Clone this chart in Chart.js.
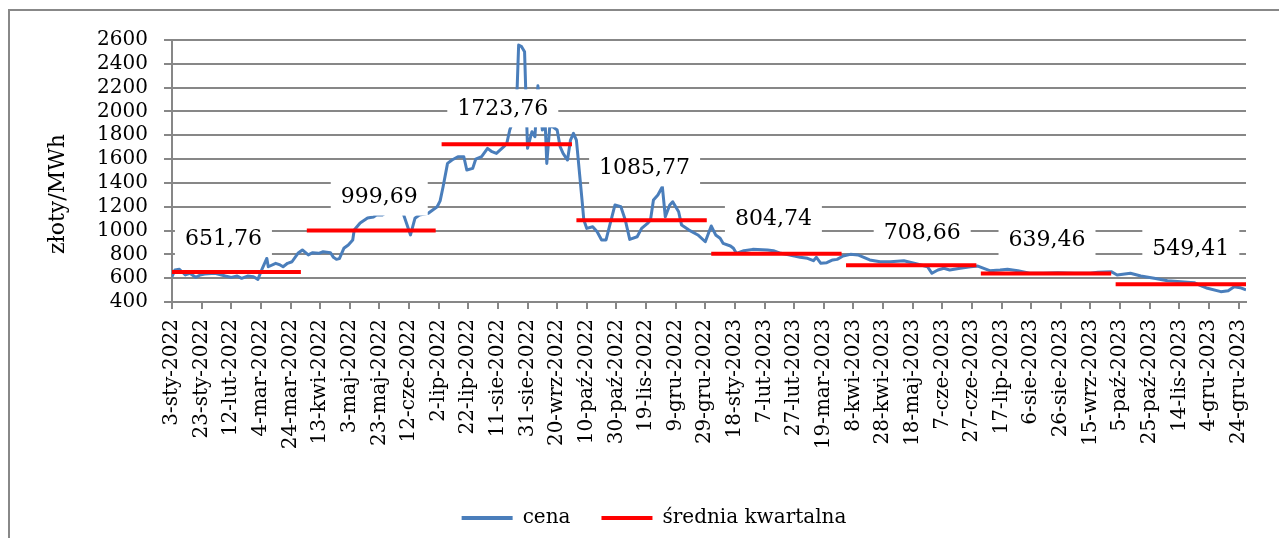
<!DOCTYPE html>
<html>
<head>
<meta charset="utf-8">
<script src="https://cdn.jsdelivr.net/npm/chart.js@4"></script>
<style>
  html, body { margin: 0; padding: 0; background: #fff; overflow: hidden; }
  #frame { position: absolute; left: 8px; top: 9px; width: 1300px; height: 560px; border: 2px solid #888888; }
  #wrap { position: absolute; left: 0; top: 0; width: 1279px; height: 538px; }
</style>
</head>
<body>
<div id="frame"></div>
<div id="wrap"><canvas id="chart" width="1279" height="538"></canvas></div>
<script>
// month abbreviations used in the tick labels
const monthNames = ['sty', 'lut', 'mar', 'kwi', 'maj', 'cze', 'lip', 'sie', 'wrz', 'paź', 'lis', 'gru'];

// price series: day offset from 3-sty-2022, value in zł/MWh
const priceDay = [0, 2, 5, 9, 12, 16, 19, 22, 29, 36, 40, 44, 47, 51, 55, 58, 61, 64, 65, 70,
  73, 75, 78, 81, 85, 88, 92, 95, 99, 102, 107, 109, 111, 113, 116, 119, 122, 123, 127, 132,
  136, 138, 142, 147, 153, 156, 161, 164, 167, 173, 179, 181, 183, 186, 189, 193, 197, 199, 203, 205,
  209, 213, 216, 219, 224, 226, 228, 231, 233, 234, 236, 238, 240, 243, 245, 247, 250, 252, 253, 255,
  257, 260, 262, 264, 267, 269, 271, 273, 277, 278, 280, 284, 287, 290, 293, 297, 299, 303, 306, 309,
  314, 317, 321, 323, 325, 328, 331, 333, 336, 338, 342, 344, 349, 355, 360, 364, 367, 370, 372, 377,
  379, 381, 386, 392, 402, 406, 411, 417, 424, 429, 433, 435, 438, 442, 446, 449, 453, 458, 463, 467,
  471, 478, 485, 494, 503, 510, 513, 517, 521, 525, 532, 539, 544, 548, 552, 559, 564, 571, 579, 588,
  598, 609, 620, 625, 634, 638, 647, 654, 663, 672, 681, 690, 694, 699, 708, 713, 717, 721, 725];
const priceValue = [612, 669, 675, 627, 641, 607, 627, 635, 641, 618, 607, 618, 599, 618, 612, 590, 683, 767, 696, 725,
  711, 696, 725, 738, 809, 837, 795, 814, 809, 822, 814, 775, 758, 764, 851, 879, 921, 1004, 1063, 1105,
  1114, 1130, 1130, 1170, 1190, 1145, 963, 1103, 1130, 1145, 1200, 1249, 1368, 1564, 1592, 1620, 1620, 1508, 1522, 1599,
  1620, 1690, 1662, 1648, 1704, 1732, 1844, 1950, 2200, 2558, 2544, 2502, 1690, 1830, 1788, 2215, 1844, 1872, 1564, 1872,
  1872, 1844, 1704, 1648, 1592, 1760, 1816, 1760, 1229, 1088, 1018, 1032, 990, 921, 921, 1116, 1214, 1200, 1088, 926,
  948, 1018, 1060, 1088, 1256, 1298, 1368, 1116, 1214, 1242, 1158, 1046, 1004, 963, 906, 1038, 963, 935, 893, 870,
  851, 809, 831, 842, 837, 831, 809, 795, 775, 767, 747, 775, 725, 730, 753, 758, 786, 800, 795, 775,
  753, 738, 738, 747, 719, 696, 641, 669, 683, 669, 683, 696, 702, 683, 663, 669, 675, 663, 641, 641,
  646, 641, 641, 650, 655, 627, 641, 618, 599, 579, 570, 562, 540, 515, 487, 495, 528, 520, 501];

// quarterly averages
const quarterStart = ['2022-01-03', '2022-04-04', '2022-07-04', '2022-10-03', '2023-01-02', '2023-04-03', '2023-07-03', '2023-10-02'];
const quarterEnd = ['2022-03-31', '2022-06-30', '2022-09-30', '2022-12-30', '2023-03-31', '2023-06-30', '2023-09-29', '2023-12-29'];
const quarterAvg = [651.76, 999.69, 1723.76, 1085.77, 804.74, 708.66, 639.46, 549.41];

const dayOf = iso => {
  const [y, m, d] = iso.split('-').map(Number);
  return (Date.UTC(y, m - 1, d) - Date.UTC(2022, 0, 3)) / 86400000;
};

const avgData = [];
quarterAvg.forEach((v, i) => {
  avgData.push({ x: dayOf(quarterStart[i]), y: v });
  avgData.push({ x: dayOf(quarterEnd[i]), y: v });
  avgData.push({ x: dayOf(quarterEnd[i]) + 0.5, y: null });
});

const FONT = '"DejaVu Serif", serif';
const GRID = '#878787';

// value boxes above each quarterly line
const avgLabels = {
  id: 'avgLabels',
  afterDatasetsDraw(chart, args, opts) {
    const { ctx, scales: { x, y } } = chart;
    ctx.save();
    ctx.font = '22px ' + FONT;
    ctx.textAlign = 'center';
    ctx.textBaseline = 'middle';
    quarterAvg.forEach((v, i) => {
      const cx = (x.getPixelForValue(dayOf(quarterStart[i])) + x.getPixelForValue(dayOf(quarterEnd[i]))) / 2 + opts.dx[i];
      const cy = y.getPixelForValue(v) - opts.lift[i];
      const text = v.toFixed(2).replace('.', ',');
      const w = ctx.measureText(text).width + 20;
      const h = 38;
      ctx.fillStyle = '#fff';
      ctx.fillRect(cx - w / 2, cy - h / 2, w, h);
      ctx.fillStyle = '#000';
      ctx.fillText(text, cx, cy + 1);
    });
    ctx.restore();
  }
};

// y-axis title, drawn a bit below the middle of the plot like the original
const yTitle = {
  id: 'yTitle',
  afterDraw(chart) {
    const { ctx, chartArea } = chart;
    ctx.save();
    ctx.translate(58, (chartArea.top + chartArea.bottom) / 2 + 23);
    ctx.rotate(-Math.PI / 2);
    ctx.font = '22px ' + FONT;
    ctx.fillStyle = '#000';
    ctx.textAlign = 'center';
    ctx.textBaseline = 'middle';
    ctx.fillText('złoty/MWh', 0, 0);
    ctx.restore();
  }
};

new Chart(document.getElementById('chart'), {
  type: 'line',
  data: {
    datasets: [
      {
        label: 'cena',
        data: priceDay.map((d, i) => ({ x: d, y: priceValue[i] })),
        borderColor: '#4a7ebb',
        backgroundColor: '#4a7ebb',
        borderWidth: 3,
        borderJoinStyle: 'round',
        pointRadius: 0,
        tension: 0,
        order: 1
      },
      {
        label: 'średnia kwartalna',
        data: avgData,
        borderColor: '#ff0000',
        backgroundColor: '#ff0000',
        borderWidth: 4,
        pointRadius: 0,
        spanGaps: false,
        order: 0
      }
    ]
  },
  options: {
    responsive: false,
    animation: false,
    layout: { padding: { left: 62, right: 33, top: 40, bottom: 0 } },
    plugins: {
      tooltip: { enabled: false },
      avgLabels: {
        lift: [34, 34, 36, 53, 36, 33, 34, 36],
        dx: [-13, 8, -4, 3, -3, 11, 1, 10]
      },
      legend: {
        position: 'bottom',
        labels: {
          font: { family: FONT, size: 20 },
          color: '#000',
          padding: 31,
          boxWidth: 51,
          boxHeight: 4,
          generateLabels: chart => chart.data.datasets.map((ds, i) => ({
            text: ds.label,
            fillStyle: ds.borderColor,
            strokeStyle: ds.borderColor,
            lineWidth: 0,
            datasetIndex: i,
            hidden: false
          }))
        }
      }
    },
    scales: {
      x: {
        type: 'linear',
        min: 0,
        max: dayOf(quarterEnd[quarterEnd.length - 1]),
        afterFit: scale => { scale.height = 175; },
        ticks: {
          stepSize: 20,
          includeBounds: false,
          autoSkip: false,
          minRotation: 90,
          maxRotation: 90,
          padding: 10,
          color: '#000',
          font: { family: FONT, size: 20 },
          callback: value => {
            const d = new Date(Date.UTC(2022, 0, 3 + value));
            return d.getUTCDate() + '-' + monthNames[d.getUTCMonth()] + '-' + d.getUTCFullYear();
          }
        },
        grid: { drawOnChartArea: false, drawTicks: true, tickLength: 7, color: GRID, lineWidth: 2 },
        border: { color: GRID, width: 2 }
      },
      y: {
        min: 400,
        max: 2600,
        afterFit: scale => { scale.width = 110; },
        ticks: {
          stepSize: 200,
          autoSkip: false,
          padding: 16,
          color: '#000',
          font: { family: FONT, size: 20 },
          callback: value => String(value)
        },
        grid: { display: true, drawOnChartArea: true, color: GRID, lineWidth: 2, tickLength: 8 },
        border: { color: GRID, width: 2 }
      }
    }
  },
  plugins: [avgLabels, yTitle]
});
</script>
</body>
</html>
